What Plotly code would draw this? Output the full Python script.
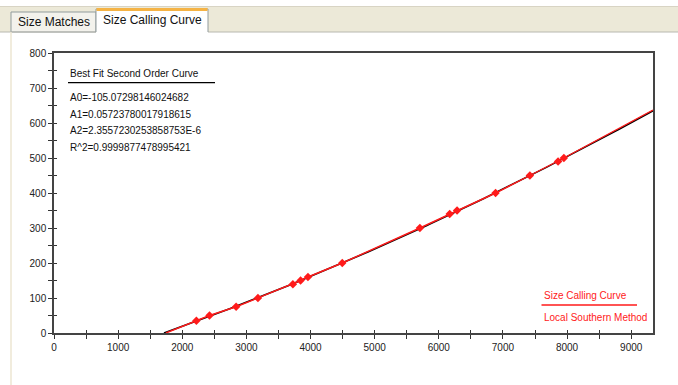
import numpy as np
import plotly.graph_objects as go

# Size standard peaks: fragment size (bp) vs. scan position
peak_scan = [2220, 2425, 2840, 3180, 3725, 3845, 3960, 4495,
             5705, 6170, 6285, 6885, 7420, 7860, 7950]
peak_size = [35, 50, 75, 100, 139, 150, 160, 200,
             300, 340, 350, 400, 450, 490, 500]

# Local Southern curve, including its extrapolated ends
southern_scan = [1745] + peak_scan + [9340]
southern_size = [0] + peak_size + [637]

# Second order best-fit coefficients
A0 = -105.07298146024682
A1 = 0.05723780017918615
A2 = 2.3557230253858753e-6
R2 = 0.9999877478995421

X_MAX = 9340
Y_MAX = 800

x_tick_vals = list(range(0, 9001, 500))
x_tick_text = [str(v) if v % 1000 == 0 else "" for v in x_tick_vals]
y_tick_vals = list(range(0, 801, 50))
y_tick_text = [str(v) if v % 100 == 0 else "" for v in y_tick_vals]

# fitted curve from its zero crossing to the right edge
x_root = (-A1 + np.sqrt(A1 ** 2 - 4 * A2 * A0)) / (2 * A2)
fit_x = np.linspace(x_root, X_MAX, 200)
fit_y = A0 + A1 * fit_x + A2 * fit_x ** 2

W, H = 678, 385
L, R, T, B = 54, 653, 53, 333


def xp(px):
    return (px - L) / (R - L)


def yp(py):
    return (B - py) / (B - T)


FONT = "Liberation Sans"
RED = "#ff1a1a"

fig = go.Figure()
fig.add_trace(go.Scatter(x=fit_x, y=fit_y, mode="lines",
                         line=dict(color="black", width=1.6),
                         hoverinfo="skip", showlegend=False))
fig.add_trace(go.Scatter(x=southern_scan, y=southern_size, mode="lines",
                         line=dict(color=RED, width=1.4),
                         hoverinfo="skip", showlegend=False))
fig.add_trace(go.Scatter(x=peak_scan, y=peak_size, mode="markers",
                         marker=dict(symbol="diamond", size=6.5, color=RED),
                         showlegend=False))
# empty trace so the inner-tick overlay axes are drawn
fig.add_trace(go.Scatter(x=[None], y=[None], xaxis="x2", yaxis="y2",
                         showlegend=False, hoverinfo="skip"))

axis_common = dict(showgrid=False, zeroline=False, fixedrange=True)
fig.update_layout(
    width=W, height=H,
    margin=dict(l=L, r=W - R, t=T, b=H - B, pad=0),
    paper_bgcolor="white", plot_bgcolor="white",
    font=dict(family=FONT, size=10, color="#222"),
    xaxis=dict(range=[0, X_MAX], tickmode="array", tickvals=x_tick_vals,
               ticktext=x_tick_text, ticks="outside", ticklen=4,
               tickcolor="#333", tickwidth=1, showline=True,
               linecolor="#444", linewidth=1.5, mirror=True,
               tickfont=dict(size=10, color="#222"), **axis_common),
    yaxis=dict(range=[0, Y_MAX], tickmode="array", tickvals=y_tick_vals,
               ticktext=y_tick_text, ticks="outside", ticklen=4,
               tickcolor="#333", tickwidth=1, showline=True,
               linecolor="#444", linewidth=1.5, mirror=True,
               tickfont=dict(size=10, color="#222"), **axis_common),
    xaxis2=dict(range=[0, X_MAX], overlaying="x", anchor="y", side="bottom",
                tickmode="array", tickvals=x_tick_vals, ticks="inside",
                ticklen=3, tickcolor="#333", showticklabels=False,
                showline=False, **axis_common),
    yaxis2=dict(range=[0, Y_MAX], overlaying="y", anchor="x", side="left",
                tickmode="array", tickvals=y_tick_vals, ticks="inside",
                ticklen=3, tickcolor="#333", showticklabels=False,
                showline=False, **axis_common),
)


def tab_path(x0, x1, y_top, y_bottom):
    # open-bottomed outline of a tab
    return (f"M {xp(x0)} {yp(y_bottom)} L {xp(x0)} {yp(y_top)} "
            f"L {xp(x1)} {yp(y_top)} L {xp(x1)} {yp(y_bottom)}")


shapes = [
    # tab strip
    dict(type="rect", xref="paper", yref="paper", x0=xp(0), x1=xp(W),
         y0=yp(32), y1=yp(6), fillcolor="#ece9d8", line=dict(width=0),
         layer="below"),
    dict(type="line", xref="paper", yref="paper", x0=xp(0), x1=xp(W),
         y0=yp(6.5), y1=yp(6.5), line=dict(color="#d8d4c4", width=1)),
    # inactive tab
    dict(type="rect", xref="paper", yref="paper", x0=xp(11), x1=xp(96),
         y0=yp(32), y1=yp(12), fillcolor="#f3f2ec",
         line=dict(color="#919b9c", width=1)),
    # panel top border, interrupted by the active tab
    dict(type="line", xref="paper", yref="paper", x0=xp(0), x1=xp(96),
         y0=yp(32), y1=yp(32), line=dict(color="#b8b8b0", width=1)),
    dict(type="line", xref="paper", yref="paper", x0=xp(208), x1=xp(W),
         y0=yp(32), y1=yp(32), line=dict(color="#b8b8b0", width=1)),
    dict(type="line", xref="paper", yref="paper", x0=xp(11), x1=xp(11),
         y0=yp(32), y1=yp(H), line=dict(color="#ece6d2", width=1.5)),
    # active tab
    dict(type="rect", xref="paper", yref="paper", x0=xp(96), x1=xp(208),
         y0=yp(33), y1=yp(9), fillcolor="white", line=dict(width=0)),
    dict(type="path", xref="paper", yref="paper",
         path=tab_path(96, 208, 9, 32), line=dict(color="#919b9c", width=1)),
    dict(type="rect", xref="paper", yref="paper", x0=xp(96.5), x1=xp(207.5),
         y0=yp(11), y1=yp(8), fillcolor="#f5b345", line=dict(width=0)),
    # underline of the fit header
    dict(type="line", xref="paper", yref="paper", x0=xp(68), x1=xp(215),
         y0=yp(82.7), y1=yp(82.7), line=dict(color="black", width=1.2)),
    # legend separator
    dict(type="line", xref="paper", yref="paper", x0=xp(541.5), x1=xp(637),
         y0=yp(305), y1=yp(305), line=dict(color=RED, width=1.5)),
]
fig.update_layout(shapes=shapes)


def note(text, px, py, color="#111", size=10, anchor="left"):
    fig.add_annotation(text=text, xref="paper", yref="paper",
                       x=xp(px), y=yp(py), xanchor=anchor, yanchor="middle",
                       showarrow=False, font=dict(family=FONT, size=size,
                                                  color=color))


note("Size Matches", 53.5, 22.5, size=12, anchor="center")
note("Size Calling Curve", 152.5, 20.5, size=12, anchor="center")

note("Best Fit Second Order Curve", 67.5, 74)
note(f"A0={A0!r}", 67.5, 97.3)
note(f"A1={A1!r}", 67.5, 114)
note("A2=2.3557230253858753E-6", 67.5, 130.7)
note(f"R^2={R2!r}", 67.5, 147.3)

note("Size Calling Curve", 541.5, 295, color=RED)
note("Local Southern Method", 541.5, 317.3, color=RED)

fig.write_html("out.html")
